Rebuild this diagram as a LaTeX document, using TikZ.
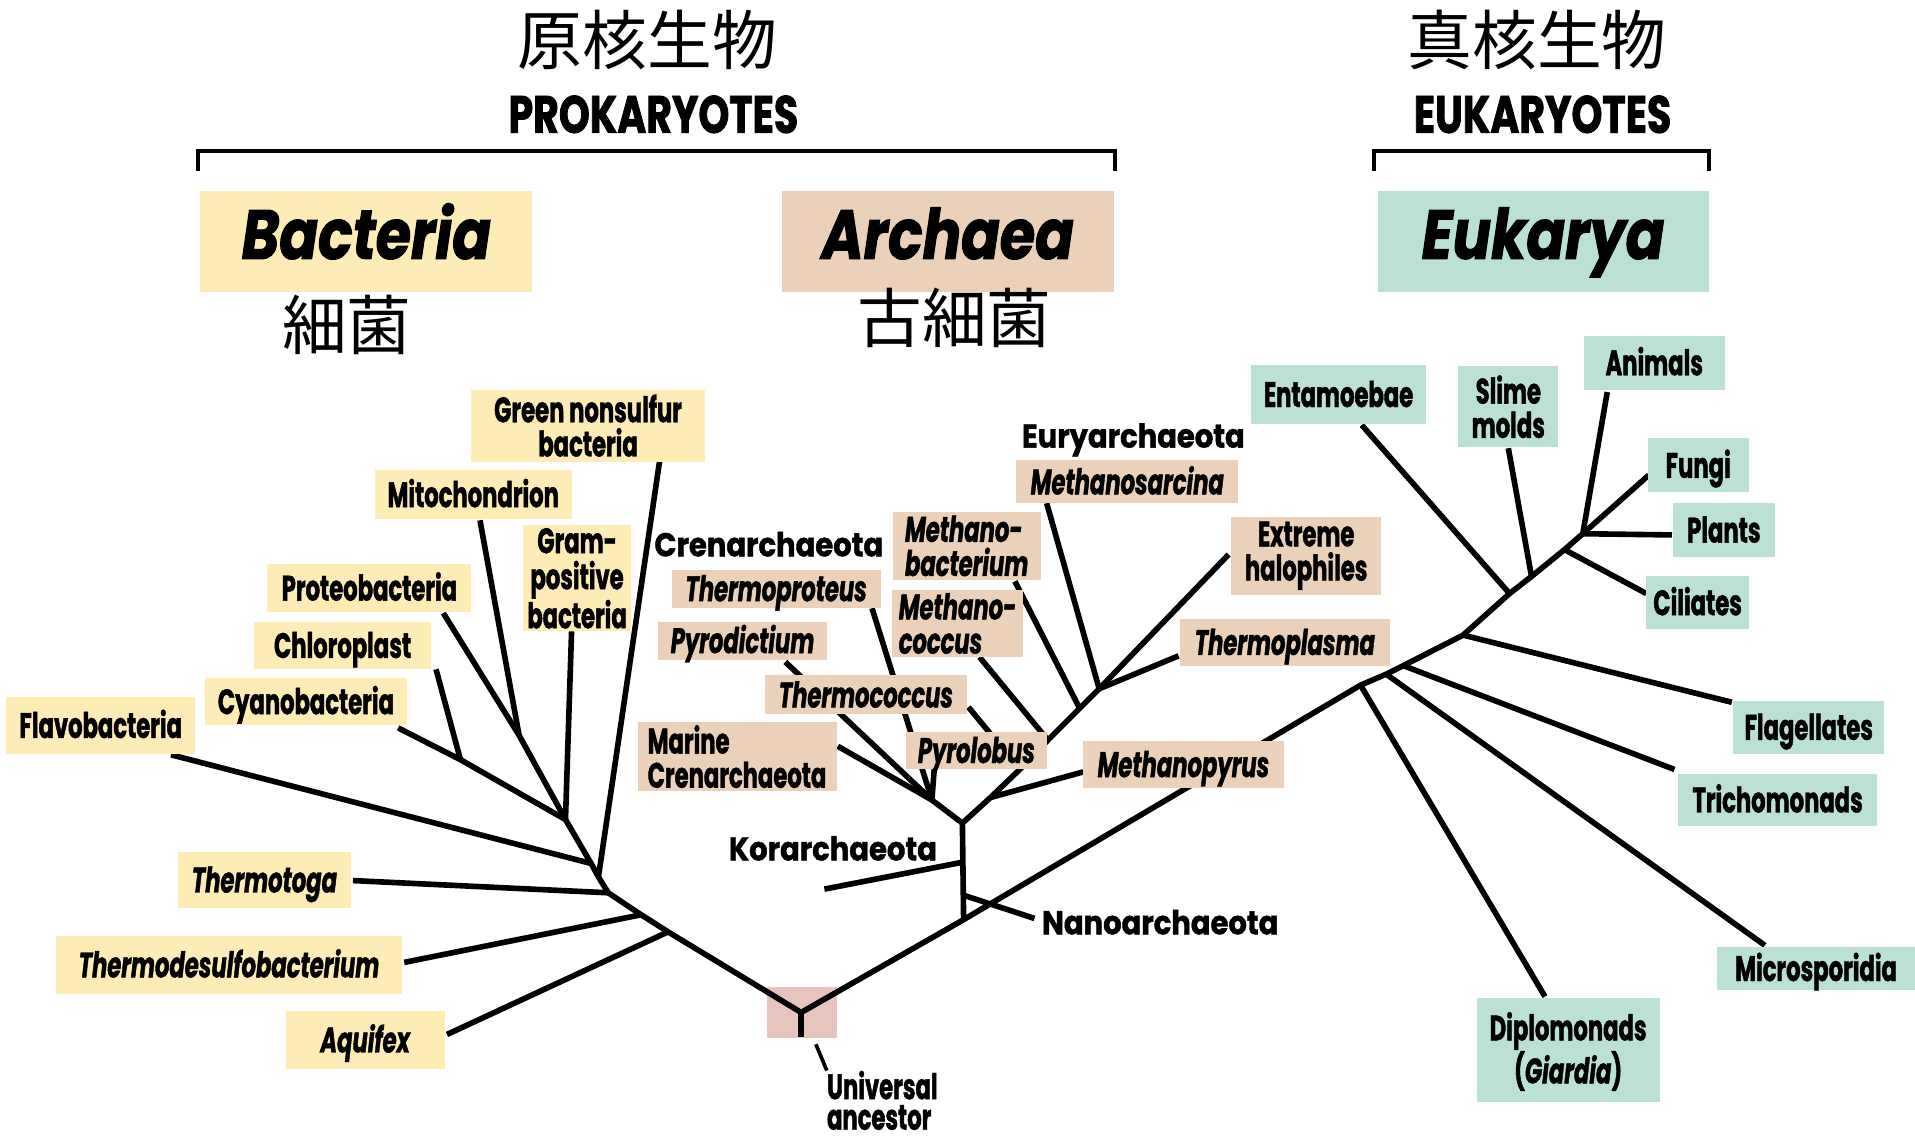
\documentclass[tikz,border=0pt]{standalone}
\usepackage{fontspec}
\newfontfamily\labfont{Poppins}[FakeStretch=0.64, FakeBold=1.2]
\newfontfamily\grpfont{Poppins}[FakeStretch=0.88, FakeBold=1.2]
\newfontfamily\headfont{Poppins}[FakeStretch=0.75, FakeBold=1.5]
\newfontfamily\domfont{Poppins}[FakeStretch=0.82, FakeBold=1.5]
\newfontfamily\cjkfont{Noto Sans CJK JP}
\definecolor{bacY}{RGB}{253,236,182}
\definecolor{arcT}{RGB}{235,209,186}
\definecolor{eukM}{RGB}{187,225,213}
\definecolor{ancP}{RGB}{231,196,189}
\pgfdeclarelayer{back}
\pgfdeclarelayer{bg}
\pgfsetlayers{back,bg,main}
\begin{document}
\begin{tikzpicture}[x=1pt,y=-1pt,
  lbl/.style={inner sep=0pt, align=center, font=\labfont\bfseries\fontsize{29}{28}\selectfont},
  one/.style={text height=20.5pt, text depth=0pt},
  ybox/.style={lbl, fill=bacY},
  abox/.style={lbl, fill=arcT},
  ebox/.style={lbl, fill=eukM},
  sz/.style 2 args={minimum width=#1pt, minimum height=#2pt},
  grp/.style={inner sep=0pt, font=\grpfont\bfseries\fontsize{27}{28}\selectfont, text height=19pt, text depth=0pt},
  head/.style={inner sep=0pt, font=\headfont\bfseries\fontsize{43}{43}\selectfont, text height=30.5pt, text depth=0pt},
  dom/.style={inner sep=0pt, font=\domfont\bfseries\itshape\fontsize{57}{57}\selectfont, text height=40pt, text depth=11pt, minimum width=272pt, minimum height=83pt},
  cjk/.style={inner sep=0pt, font=\cjkfont\fontsize{53}{53}\selectfont},
  branch/.style={line width=4.6pt, line join=round},
  bracketline/.style={line width=3.3pt},
  pointer/.style={line width=3pt}
]
\useasboundingbox (0,0) rectangle (1568,932);

% ---------- headers ----------
\node[cjk] (prokcjk) at (530,33) {原核生物};
\node[head] (prok) at (535,93.5) {PROKARYOTES};
\node[cjk] (eukcjk) at (1258.5,33) {真核生物};
\node[head] (eukh) at (1263,93.5) {EUKARYOTES};
\draw[bracketline] (162,140) -- (162,124) -- (913,124) -- (913,140);
\draw[bracketline] (1125,140) -- (1125,124) -- (1399,124) -- (1399,140);

\node[dom, fill=bacY] (bact) at (300,197.5) {Bacteria};
\node[dom, fill=arcT] (arch) at (776,197.5) {Archaea};
\node[dom, fill=eukM, minimum width=271pt] (eukd) at (1263.5,197.5) {Eukarya};
\node[cjk] (bactcjk) at (284,266) {細菌};
\node[cjk] (archcjk) at (781.5,260.5) {古細菌};

% ---------- Bacteria labels ----------
\node[ybox, sz={191}{59}] (green) at (481.5,348.5) {Green nonsulfur\\bacteria};
\node[ybox, one, sz={161}{40}] (mito) at (387.5,405) {Mitochondrion};
\node[ybox, sz={89}{87}, font=\labfont\bfseries\fontsize{29}{29.5}\selectfont] (gram) at (472.5,473.5) {Gram-\\positive\\bacteria};
\node[ybox, one, sz={167}{39}] (proteo) at (302.5,481.5) {Proteobacteria};
\node[ybox, one, sz={145}{39}] (chloro) at (280.5,528.5) {Chloroplast};
\node[ybox, one, sz={165}{39}] (cyano) at (250.5,574.5) {Cyanobacteria};
\node[ybox, one, sz={155}{46}] (flavo) at (82.5,594) {Flavobacteria};
\node[ybox, one, sz={142}{46}] (thtoga) at (216.5,720.5) {\itshape Thermotoga};
\node[ybox, one, sz={284}{47}] (thdesulfo) at (187.5,790) {\itshape Thermodesulfobacterium};
\node[ybox, one, sz={130}{47}] (aquifex) at (299,851.5) {\itshape Aquifex};

% ---------- Archaea labels ----------
\node[grp] (cren) at (629.5,446) {Crenarchaeota};
\node[grp] (eury) at (928,357) {Euryarchaeota};
\node[grp] (kor) at (682,695) {Korarchaeota};
\node[grp] (nano) at (950,755.5) {Nanoarchaeota};
\node[abox, one, sz={171}{31}] (thprot) at (635.5,482) {\itshape Thermoproteus};
\node[abox, one, sz={138}{31}] (pyrod) at (608,524.5) {\itshape Pyrodictium};
\node[abox, one, sz={166}{32}] (thcoc) at (709,569) {\itshape Thermococcus};
\node[abox, sz={163}{57}, align=left] (marine) at (603.5,619.5) {Marine\\Crenarchaeota};
\node[abox, sz={121}{56}, align=left] (mbact) at (791.5,447) {\itshape Methano-\\\itshape bacterium};
\node[abox, sz={108}{55}, align=left] (mcoc) at (784,510.5) {\itshape Methano-\\\itshape coccus};
\node[abox, one, sz={115}{31}] (pyrol) at (799.5,614.5) {\itshape Pyrolobus};
\node[abox, one, sz={182}{35}] (msarc) at (923,394.5) {\itshape Methanosarcina};
\node[abox, sz={123}{64}] (halo) at (1069.5,455) {Extreme\\halophiles};
\node[abox, one, sz={172}{38}] (thpl) at (1052,526) {\itshape Thermoplasma};
\node[abox, one, sz={164}{38}] (mpyrus) at (969,626) {\itshape Methanopyrus};

% ---------- Eukarya labels ----------
\node[ebox, one, sz={144}{48}] (entam) at (1096,323) {Entamoebae};
\node[ebox, sz={82}{66}] (slime) at (1235,333) {Slime\\molds};
\node[ebox, one, sz={115}{44}] (animals) at (1354.5,297) {Animals};
\node[ebox, one, sz={83}{44}] (fungi) at (1390.5,381) {Fungi};
\node[ebox, one, sz={83}{44}] (plants) at (1411.5,434) {Plants};
\node[ebox, one, sz={84}{43}] (cil) at (1390,493.5) {Ciliates};
\node[ebox, one, sz={124}{43}] (flag) at (1481,595.5) {Flagellates};
\node[ebox, one, sz={163}{42}] (tricho) at (1455.5,655) {Trichomonads};
\node[ebox, one, sz={162}{36}] (micro) at (1487,793) {Microsporidia};
\node[ebox, sz={150}{85}, font=\labfont\bfseries\fontsize{29}{34}\selectfont] (diplo) at (1284,859.5) {\rule{0pt}{26pt}Diplomonads\\(\textit{Giardia})};

% ---------- universal ancestor ----------
\begin{pgfonlayer}{back}
\node[fill=ancP, inner sep=0pt, minimum width=57pt, minimum height=42pt] (ancbox) at (656.5,829) {};
\end{pgfonlayer}
\node[lbl, anchor=base west] (ua1) at (677,900) {Universal};
\node[lbl, anchor=base west] (ua2) at (677,925) {ancestor};

% ---------- tree coordinates ----------
\coordinate (anc) at (656,829);
\coordinate (ancb) at (656,849);
\coordinate (b1) at (547,763);
\coordinate (b2) at (525,749);
\coordinate (b3) at (498,731);
\coordinate (b4) at (490,718);
\coordinate (b5) at (484,707);
\coordinate (b6) at (463,671);
\coordinate (b7) at (425,602);
\coordinate (b8) at (377,622);
\coordinate (t-aquifex) at (366,847);
\coordinate (t-thdesulfo) at (331,788);
\coordinate (t-thtoga) at (289,721);
\coordinate (t-green) at (540,378);
\coordinate (t-flavo) at (140,618);
\coordinate (t-gram) at (468,517);
\coordinate (t-mito) at (393,426);
\coordinate (t-proteo) at (363,502);
\coordinate (t-chloro) at (357,548);
\coordinate (t-cyano) at (326,596);

\coordinate (a0) at (789,753);
\coordinate (a1) at (788,674);
\coordinate (nanoj) at (789,733);
\coordinate (korj) at (788,706);
\coordinate (t-nano) at (847,752);
\coordinate (t-kor) at (675,728);
\coordinate (c1) at (763,655);
\coordinate (t-marine) at (686,611);
\coordinate (t-pyrod) at (643,542);
\coordinate (t-thprot) at (714,498);
\coordinate (t-pyrol) at (765,629);
\coordinate (e1) at (811,653);
\coordinate (e2) at (835,630);
\coordinate (e3) at (858,606);
\coordinate (e4) at (884,580);
\coordinate (e5) at (900,564);
\coordinate (t-mpyrus) at (887,632);
\coordinate (t-thcoc) at (793,579);
\coordinate (t-mcoc) at (802,538);
\coordinate (t-mbact) at (831,476);
\coordinate (t-msarc) at (857,412);
\coordinate (t-halo) at (1006,454);
\coordinate (t-thpl) at (965,537);

\coordinate (k1) at (1114,561);
\coordinate (k2) at (1135,552);
\coordinate (k3) at (1149,545);
\coordinate (k4) at (1198,520);
\coordinate (k5) at (1236,486);
\coordinate (k6) at (1254,472);
\coordinate (k7) at (1281,450);
\coordinate (k8) at (1296,437);
\coordinate (t-diplo) at (1265,816);
\coordinate (t-micro) at (1445,774);
\coordinate (t-tricho) at (1371,630);
\coordinate (t-flag) at (1418,575);
\coordinate (t-entam) at (1115,348);
\coordinate (t-slime) at (1235,367);
\coordinate (t-cil) at (1348,486);
\coordinate (t-plants) at (1369,438);
\coordinate (t-fungi) at (1350,389);
\coordinate (t-animals) at (1316,321);
\coordinate (ua-a) at (668,855);

% ---------- branches ----------
\begin{pgfonlayer}{bg}
\draw[branch] (ancb) -- (anc);
% bacteria
\draw[branch] (anc) -- (b1) -- (b2) -- (b3) -- (b4) -- (b5) -- (b6) -- (b7) -- (t-proteo);
\draw[branch] (b1) -- (t-aquifex);
\draw[branch] (b2) -- (t-thdesulfo);
\draw[branch] (b3) -- (t-thtoga);
\draw[branch] (b4) -- (t-green);
\draw[branch] (b5) -- (t-flavo);
\draw[branch] (b6) -- (t-gram);
\draw[branch] (b7) -- (t-mito);
\draw[branch] (b6) -- (b8) -- (t-cyano);
\draw[branch] (b8) -- (t-chloro);
% archaea
\draw[branch] (anc) -- (a0) -- (k1) -- (k2) -- (k3) -- (k4) -- (k5) -- (k6) -- (k7) -- (k8);
\draw[branch] (a0) -- (a1) -- (c1);
\draw[branch] (nanoj) -- (t-nano);
\draw[branch] (korj) -- (t-kor);
\draw[branch] (c1) -- (t-marine);
\draw[branch] (c1) -- (t-pyrod);
\draw[branch] (c1) -- (t-thprot);
\draw[branch] (c1) -- (t-pyrol);
\draw[branch] (a1) -- (e1) -- (e2) -- (e3) -- (e4) -- (e5);
\draw[branch] (e1) -- (t-mpyrus);
\draw[branch] (e2) -- (t-thcoc);
\draw[branch] (e3) -- (t-mcoc);
\draw[branch] (e4) -- (t-mbact);
\draw[branch] (e5) -- (t-msarc);
\draw[branch] (e5) -- (t-halo);
\draw[branch] (e5) -- (t-thpl);
% eukarya
\draw[branch] (k1) -- (t-diplo);
\draw[branch] (k2) -- (t-micro);
\draw[branch] (k3) -- (t-tricho);
\draw[branch] (k4) -- (t-flag);
\draw[branch] (k5) -- (t-entam);
\draw[branch] (k6) -- (t-slime);
\draw[branch] (k7) -- (t-cil);
\draw[branch] (k8) -- (t-plants);
\draw[branch] (k8) -- (t-fungi);
\draw[branch] (k8) -- (t-animals);
% pointer
\draw[pointer] (ua-a) -- (ua1.north west);
\end{pgfonlayer}
\end{tikzpicture}
\end{document}
